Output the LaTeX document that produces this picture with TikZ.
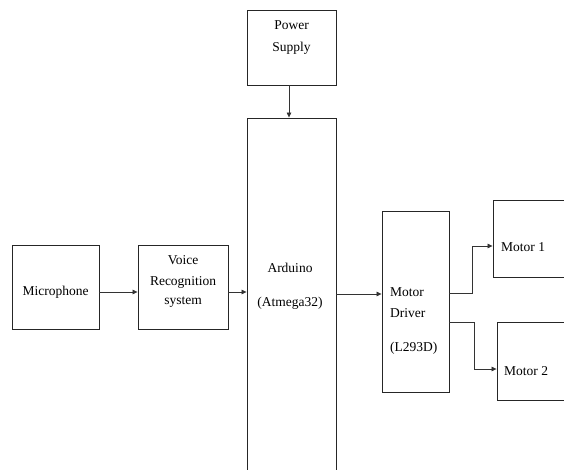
\documentclass[tikz,border=0pt]{standalone}
\usepackage{fontspec}
\setmainfont{Liberation Serif}
\usetikzlibrary{arrows.meta}
\begin{document}
\begin{tikzpicture}[x=1pt,y=-1pt,
  box/.style={draw=black!85, line width=0.9pt, inner sep=0pt},
  lbl/.style={inner sep=0pt, font=\fontsize{13.5}{16}\selectfont},
  arr/.style={draw=black!80, line width=0.7pt, -{Triangle[length=5pt,width=4.5pt]}}]
\useasboundingbox (0,0) rectangle (564,470);
\clip (0,0) rectangle (564,470);
% boxes
\node[box, minimum width=89pt, minimum height=75pt] (pwr) at (291.5,47.5) {};
\node[box, minimum width=89pt, minimum height=357pt] (ard) at (291.5,296.5) {};
\node[box, minimum width=87pt, minimum height=84pt] (mic) at (55.5,287) {};
\node[box, minimum width=90pt, minimum height=84pt] (vrs) at (183,287) {};
\node[box, minimum width=67pt, minimum height=181pt] (drv) at (415.5,301.5) {};
\node[box, minimum width=107pt, minimum height=77pt] (m1) at (546.5,238.5) {};
\node[box, minimum width=103pt, minimum height=78pt] (m2) at (548.5,361) {};
% texts
\node[lbl] (t1) at (291.5,25) {Power};
\node[lbl] (t2) at (291.5,48) {Supply};
\node[lbl] (t3) at (55.5,292) {Microphone};
\node[lbl] (t4) at (183,260) {Voice};
\node[lbl] (t5) at (183,282) {Recognition};
\node[lbl] (t6) at (183,302) {system};
\node[lbl] (t7) at (290,268) {Arduino};
\node[lbl] (t8) at (290,303) {(Atmega32)};
\node[lbl, anchor=west] (t9) at (390,292) {Motor};
\node[lbl, anchor=west] (t10) at (390,313) {Driver};
\node[lbl, anchor=west] (t11) at (390,348) {(L293D)};
\node[lbl, anchor=west] (t12) at (501,247) {Motor 1};
\node[lbl, anchor=west] (t13) at (504,371) {Motor 2};
% connectors
\coordinate (ya) at (0,292);
\coordinate (yb) at (0,294);
\coordinate (px) at (289,0);
\coordinate (k1) at (472,293);
\coordinate (k2) at (474,322);
\coordinate (y1) at (0,246);
\coordinate (y2) at (0,369);
\draw[arr] (pwr.south -| px) -- (ard.north -| px);
\draw[arr] (mic.east |- ya) -- (vrs.west |- ya);
\draw[arr] (vrs.east |- ya) -- (ard.west |- ya);
\draw[arr] (ard.east |- yb) -- (drv.west |- yb);
\draw[arr] (drv.east |- k1) -- (k1) |- (m1.west |- y1);
\draw[arr] (drv.east |- k2) -- (k2) |- (m2.west |- y2);
\end{tikzpicture}
\end{document}
